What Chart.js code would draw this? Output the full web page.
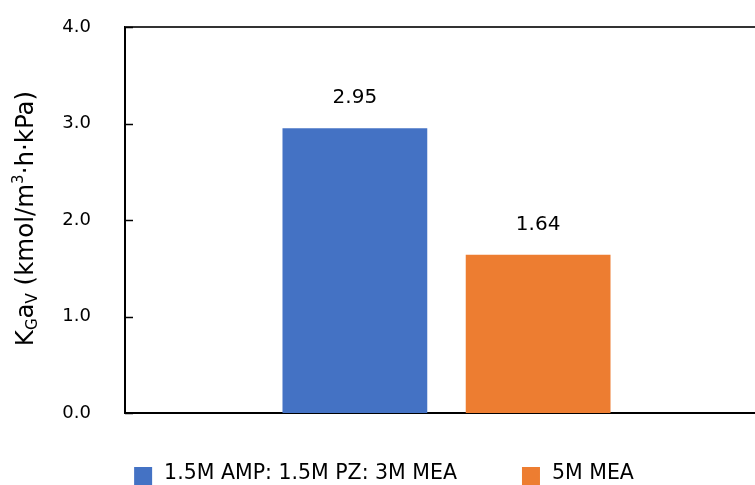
<!DOCTYPE html>
<html>
<head>
<meta charset="utf-8">
<script src="https://cdn.jsdelivr.net/npm/chart.js@4"></script>
<style>
  html, body { margin: 0; padding: 0; background: #fff; overflow: hidden; }
  #wrap { width: 768px; height: 485px; }
</style>
</head>
<body>
<div id="wrap"><canvas id="kgaChart"></canvas></div>
<script>
// KGaV for the two absorbents
const categories = [""];
const seriesNames = ["1.5M AMP: 1.5M PZ: 3M MEA", "5M MEA"];
const blendValues = [2.95];
const meaValues = [1.64];
const seriesColors = ["#4472C4", "#ED7D31"];
const yMin = 0;
const yMax = 4;
const yStep = 1;

const FONT = "'DejaVu Sans', sans-serif";

// value labels, y title with sub/superscripts, top border, inner ticks, legend
const extras = {
  id: "extras",
  afterDatasetsDraw(chart) {
    const ctx = chart.ctx;
    ctx.save();
    ctx.font = "20px " + FONT;
    ctx.fillStyle = "#000";
    ctx.textAlign = "center";
    ctx.textBaseline = "alphabetic";
    chart.data.datasets.forEach((ds, i) => {
      chart.getDatasetMeta(i).data.forEach((bar, j) => {
        ctx.fillText(ds.data[j].toFixed(2), bar.x, bar.y - 25);
      });
    });
    ctx.restore();
  },
  afterDraw(chart) {
    const { ctx, chartArea: area, scales: { y } } = chart;
    ctx.save();

    // frame top line
    ctx.strokeStyle = "#333";
    ctx.lineWidth = 2;
    ctx.beginPath();
    ctx.moveTo(area.left, area.top);
    ctx.lineTo(area.right, area.top);
    ctx.stroke();

    // tick marks pointing into the plot
    ctx.strokeStyle = "#000";
    ctx.lineWidth = 1.5;
    y.ticks.forEach((t) => {
      const py = Math.round(y.getPixelForValue(t.value)) + 0.5;
      ctx.beginPath();
      ctx.moveTo(area.left, py);
      ctx.lineTo(area.left + 8, py);
      ctx.stroke();
    });

    // y axis title: K_G a_V (kmol/m^3·h·kPa)
    const parts = [
      ["K", 24.5, 0],
      ["G", 15, 4],
      ["a", 24.5, 0],
      ["V", 15, 4],
      [" (kmol/m", 24.5, 0],
      ["3", 15, -10],
      ["·h·kPa)", 24.5, 0],
    ];
    let total = 0;
    parts.forEach((p) => {
      ctx.font = p[1] + "px " + FONT;
      total += ctx.measureText(p[0]).width;
    });
    ctx.translate(33, (area.top + area.bottom) / 2 - 1.5);
    ctx.rotate(-Math.PI / 2);
    ctx.fillStyle = "#000";
    ctx.textAlign = "left";
    ctx.textBaseline = "alphabetic";
    let x = -total / 2;
    parts.forEach((p) => {
      ctx.font = p[1] + "px " + FONT;
      ctx.fillText(p[0], x, p[2]);
      x += ctx.measureText(p[0]).width;
    });
    ctx.setTransform(1, 0, 0, 1, 0, 0);

    // legend along the bottom
    ctx.font = "20.5px " + FONT;
    const box = 18, gap = 12, spacing = 65;
    const widths = chart.data.datasets.map((ds) => box + gap + ctx.measureText(ds.label).width);
    const legendWidth = widths.reduce((a, b) => a + b, 0) + spacing * (widths.length - 1);
    let lx = chart.width / 2 - legendWidth / 2;
    chart.data.datasets.forEach((ds, i) => {
      ctx.fillStyle = ds.backgroundColor;
      ctx.fillRect(lx, 467, box, box);
      ctx.fillStyle = "#000";
      ctx.fillText(ds.label, lx + box + gap, 479);
      lx += widths[i] + spacing;
    });

    ctx.restore();
  },
};

new Chart(document.getElementById("kgaChart"), {
  type: "bar",
  data: {
    labels: categories,
    datasets: [
      { label: seriesNames[0], data: blendValues, backgroundColor: seriesColors[0], borderWidth: 0 },
      { label: seriesNames[1], data: meaValues, backgroundColor: seriesColors[1], borderWidth: 0 },
    ],
  },
  plugins: [extras],
  options: {
    responsive: true,
    maintainAspectRatio: false,
    animation: false,
    categoryPercentage: 0.57,
    barPercentage: 0.79,
    layout: { padding: { top: 27, left: 0, right: 0, bottom: 0 } },
    plugins: {
      legend: { display: false },
      tooltip: { enabled: false },
    },
    scales: {
      x: {
        grid: { display: false, drawTicks: false },
        ticks: { display: false },
        border: { display: true, color: "#000", width: 2 },
        afterFit: (scale) => { scale.height = 72; },
      },
      y: {
        min: yMin,
        max: yMax,
        grid: { display: false, drawTicks: false },
        border: { display: true, color: "#000", width: 2 },
        ticks: {
          stepSize: yStep,
          padding: 34,
          color: "#000",
          font: { family: FONT, size: 18 },
          callback: (v) => v.toFixed(1),
        },
        afterFit: (scale) => {
          scale.width = 125;
          scale.paddingTop = 0;
          scale.paddingBottom = 0;
        },
      },
    },
  },
});
</script>
</body>
</html>
